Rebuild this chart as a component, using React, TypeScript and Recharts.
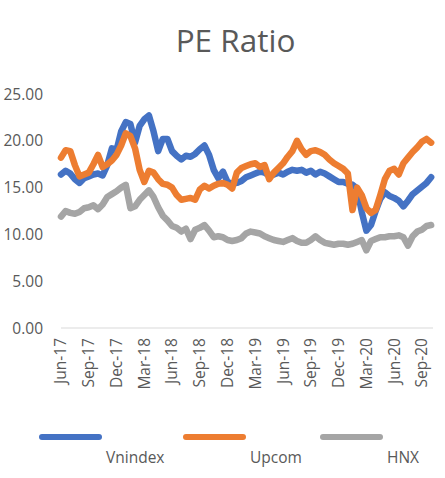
import React from 'react';
import { LineChart, Line, XAxis, YAxis, Legend } from 'recharts';

const months = [
  0, 0.5, 1, 1.5, 2, 2.5, 3, 3.5, 4, 4.5,
  5, 5.5, 6, 6.5, 7, 7.5, 8, 8.5, 9, 9.5,
  10, 10.5, 11, 11.5, 12, 12.5, 13, 13.5, 14, 14.5,
  15, 15.5, 16, 16.5, 17, 17.5, 18, 18.5, 19, 19.5,
  20, 20.5, 21, 21.5, 22, 22.5, 23, 23.5, 24, 24.5,
  25, 25.5, 26, 26.5, 27, 27.5, 28, 28.5, 29, 29.5,
  30, 30.5, 31, 31.5, 32, 32.5, 33, 33.5, 34, 34.5,
  35, 35.5, 36, 36.5, 37, 37.5, 38, 38.5, 39, 39.5,
  40,
];

const vnindex = [
  16.4, 16.8, 16.5, 15.9, 15.5, 16.0, 16.2, 16.4, 16.5, 16.3,
  17.4, 19.2, 19.0, 21.0, 22.0, 21.8, 19.8, 21.6, 22.3, 22.7,
  21.0, 18.9, 20.2, 20.2, 18.9, 18.4, 18.0, 18.4, 18.3, 18.6,
  19.1, 19.5, 18.5, 16.9, 16.0, 16.7, 15.6, 15.4, 15.5, 15.7,
  16.1, 16.3, 16.5, 16.7, 16.6, 16.3, 16.4, 16.6, 16.4, 16.7,
  16.9, 16.8, 16.9, 16.6, 16.8, 16.4, 16.7, 16.5, 16.2, 15.9,
  15.6, 15.6, 15.4, 15.3, 14.9, 12.4, 10.4, 11.0, 12.5, 13.8,
  14.5, 14.1, 13.9, 13.6, 13.0, 13.6, 14.3, 14.7, 15.1, 15.5,
  16.1,
];

const upcom = [
  18.2, 19.0, 18.9, 17.4, 16.2, 16.4, 16.6, 17.5, 18.5, 17.2,
  17.5, 17.9, 18.5, 19.5, 20.8, 20.5, 19.2, 16.9, 15.6, 16.8,
  16.6, 15.9, 15.4, 15.3, 15.0, 14.2, 13.7, 13.8, 13.9, 13.7,
  14.8, 15.2, 14.9, 15.2, 15.4, 15.5, 15.3, 14.9, 16.6, 17.1,
  17.3, 17.5, 17.6, 17.2, 17.4, 15.9, 16.6, 17.1, 17.6, 18.3,
  18.9, 20.0, 19.1, 18.5, 18.9, 19.0, 18.8, 18.5, 18.0, 17.6,
  17.3, 17.0, 16.5, 12.6, 15.0, 14.2, 12.8, 12.3, 12.6, 14.2,
  15.9, 16.8, 17.0, 16.4, 17.6, 18.2, 18.8, 19.3, 19.9, 20.2,
  19.8,
];

const hnx = [
  11.9, 12.5, 12.3, 12.2, 12.4, 12.8, 12.9, 13.1, 12.7, 13.2,
  14.0, 14.3, 14.6, 15.0, 15.3, 12.8, 13.0, 13.7, 14.2, 14.7,
  14.0, 12.9, 12.0, 11.5, 10.9, 10.7, 10.3, 10.6, 9.5, 10.5,
  10.7, 11.0, 10.4, 9.7, 9.8, 9.7, 9.4, 9.3, 9.4, 9.6,
  10.1, 10.3, 10.2, 10.1, 9.8, 9.6, 9.4, 9.3, 9.2, 9.4,
  9.6, 9.3, 9.1, 9.1, 9.4, 9.8, 9.4, 9.1, 9.0, 8.9,
  9.0, 9.0, 8.9, 9.0, 9.2, 9.4, 8.3, 9.3, 9.5, 9.7,
  9.7, 9.8, 9.8, 9.9, 9.7, 8.8, 9.8, 10.3, 10.5, 10.9,
  11.0,
];

const tickMonths = [0, 3, 6, 9, 12, 15, 18, 21, 24, 27, 30, 33, 36, 39];
const tickLabels = [
  'Jun-17', 'Sep-17', 'Dec-17', 'Mar-18', 'Jun-18', 'Sep-18', 'Dec-18',
  'Mar-19', 'Jun-19', 'Sep-19', 'Dec-19', 'Mar-20', 'Jun-20', 'Sep-20',
];
const yTicks = [0, 5, 10, 15, 20, 25];

const seriesNames = ['Vnindex', 'Upcom', 'HNX'];
const seriesColors = ['#4472C4', '#ED7D31', '#A5A5A5'];

const data = months.map((m, i) => ({
  m,
  Vnindex: vnindex[i],
  Upcom: upcom[i],
  HNX: hnx[i],
}));

const FONT = "'Open Sans', sans-serif";
const TEXT = '#595959';

const XTick = (props: any) => {
  const { x, y, payload } = props;
  const idx = tickMonths.indexOf(payload.value);
  return (
    <text
      x={x}
      y={y}
      transform={`rotate(-90, ${x}, ${y})`}
      textAnchor="end"
      dy="0.35em"
      fill={TEXT}
      fontSize={15.5}
      fontFamily={FONT}
    >
      {idx >= 0 ? tickLabels[idx] : ''}
    </text>
  );
};

const legendLineX = [39, 183, 320];

const LegendContent = (props: any) => {
  const payload = props.payload || [];
  return (
    <svg
      width={445}
      height={60}
      style={{ position: 'absolute', left: 0, top: 0, overflow: 'visible' }}
    >
      {payload.map((entry: any) => {
        const i = seriesNames.indexOf(entry.value);
        if (i < 0) return null;
        return (
          <g key={entry.value}>
            <line
              x1={legendLineX[i] + 3}
              x2={legendLineX[i] + 60}
              y1={17}
              y2={17}
              stroke={seriesColors[i]}
              strokeWidth={6}
              strokeLinecap="round"
            />
            <text
              x={legendLineX[i] + 67}
              y={43}
              fill={TEXT}
              fontSize={15.5}
              fontFamily={FONT}
            >
              {entry.value}
            </text>
          </g>
        );
      })}
    </svg>
  );
};

const drawOrder = ['HNX', 'Vnindex', 'Upcom'];

export default function App() {
  return (
    <div
      style={{
        position: 'absolute',
        left: 0,
        top: 0,
        width: 445,
        height: 478,
        background: '#fff',
      }}
    >
      <svg
        width={445}
        height={70}
        style={{ position: 'absolute', left: 0, top: 0 }}
      >
        <text
          x={235.5}
          y={52}
          textAnchor="middle"
          fill={TEXT}
          fontSize={31.5}
          fontFamily={FONT}
        >
          PE Ratio
        </text>
      </svg>
      <LineChart
        width={445}
        height={478}
        data={data}
        margin={{ top: 94, right: 12, left: 0, bottom: 0 }}
      >
        <XAxis
          dataKey="m"
          type="number"
          domain={[0, 40.2]}
          ticks={tickMonths}
          interval={0}
          height={150}
          tickLine={false}
          axisLine={{ stroke: '#D9D9D9', strokeWidth: 1 }}
          tick={<XTick />}
          tickSize={0}
          tickMargin={10}
        />
        <YAxis
          type="number"
          domain={[0, 25]}
          ticks={yTicks}
          width={61}
          axisLine={false}
          tickLine={false}
          tickSize={0}
          tickMargin={18}
          tickFormatter={(v: number) => v.toFixed(2)}
          tick={{ fill: TEXT, fontSize: 15.5, fontFamily: FONT }}
        />
        <Legend
          content={<LegendContent />}
          wrapperStyle={{ position: 'absolute', left: 0, top: 420, width: 445, height: 0 }}
        />
        {drawOrder.map((name) => {
          const i = seriesNames.indexOf(name);
          return (
            <Line
              key={name}
              type="linear"
              dataKey={name}
              name={name}
              stroke={seriesColors[i]}
              strokeWidth={6.5}
              strokeLinejoin="round"
              strokeLinecap="round"
              dot={false}
              activeDot={false}
              isAnimationActive={false}
            />
          );
        })}
      </LineChart>
    </div>
  );
}
